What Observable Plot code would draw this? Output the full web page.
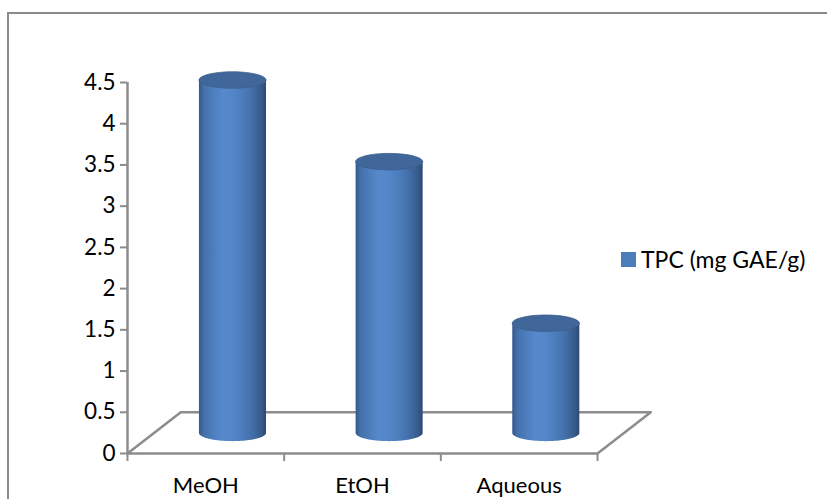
<!DOCTYPE html>
<html>
<head>
<meta charset="utf-8">
<script src="https://cdn.jsdelivr.net/npm/d3@7"></script>
<script src="https://cdn.jsdelivr.net/npm/@observablehq/plot@0.6"></script>
<style>
  html, body { margin: 0; padding: 0; background: #fff; overflow: hidden; }
  #wrap { position: relative; width: 827px; height: 499px; overflow: hidden; font-family: Lato, "Open Sans", sans-serif; }
  #frame { position: absolute; left: 7px; top: 12px; width: 900px; height: 600px; border: 2px solid #8a8a8a; box-sizing: border-box; }
  #legend { position: absolute; left: 621px; top: 245px; display: flex; align-items: center; font-size: 23px; color: #000; white-space: nowrap; }
  #legend .sw { width: 15px; height: 15px; margin-right: 5px; }
</style>
</head>
<body>
<div id="wrap">
  <div id="frame"></div>
  <div id="chart"></div>
  <div id="legend"></div>
</div>
<script>
// ---- data ----
const categories = ["MeOH", "EtOH", "Aqueous"];
const tpcValues = [4.28, 3.29, 1.33];
const seriesName = "TPC (mg GAE/g)";
const yTicks = [0, 0.5, 1, 1.5, 2, 2.5, 3, 3.5, 4, 4.5];
const yTickLabels = ["0", "0.5", "1", "1.5", "2", "2.5", "3", "3.5", "4", "4.5"];

// ---- layout / style constants ----
const seriesColor = "#4a7ebb";
const depthX = 0.34;   // floor depth offset (x units)
const depthY = 0.5;    // floor depth offset (y units)
const halfW = 0.214;   // cylinder radius in x units
const capR = 0.1;      // cap ellipse semi-axis in y units
const nArc = 48;

const n = categories.length;
const rows = categories.map((c, i) => ({ c, i, v: tpcValues[i] }));

function ellipsePts(cx, cy, from, to, group) {
  const pts = [];
  for (let k = 0; k <= nArc; k++) {
    const t = from + (to - from) * k / nArc;
    pts.push({ x: cx + halfW * Math.cos(t), y: cy + capR * Math.sin(t), g: group });
  }
  return pts;
}

const bodyPts = [];
const capPts = [];
rows.forEach(r => {
  const cx = r.i + 0.5 + depthX / 2;
  const base = depthY / 2;
  const top = base + r.v;
  bodyPts.push({ x: cx - halfW, y: top, g: r.c });
  ellipsePts(cx, base, Math.PI, 2 * Math.PI, r.c).forEach(p => bodyPts.push(p));
  bodyPts.push({ x: cx + halfW, y: top, g: r.c });
  ellipsePts(cx, top, 0, 2 * Math.PI, r.c).forEach(p => capPts.push(p));
});

const floor = [
  { x: 0, y: 0 }, { x: depthX, y: depthY }, { x: n + depthX, y: depthY }, { x: n, y: 0 }, { x: 0, y: 0 }
];

const axisGray = "#8c8c8c";

const chart = Plot.plot({
  width: 827,
  height: 499,
  marginLeft: 127,
  marginRight: 230,
  marginTop: 82,
  marginBottom: 46,
  style: { fontFamily: "Lato, 'Open Sans', sans-serif", background: "transparent", overflow: "visible" },
  x: { type: "linear", domain: [0, n], axis: null },
  y: { domain: [0, 4.5], axis: null },
  marks: [
    Plot.line(floor, { x: "x", y: "y", stroke: axisGray, strokeWidth: 2.5 }),
    Plot.ruleX([0], { y1: 0, y2: 4.5, stroke: axisGray, strokeWidth: 2.5 }),
    Plot.axisY({ ticks: yTicks, tickFormat: d => yTickLabels[yTicks.indexOf(d)], tickSize: 7, tickPadding: 5,
      stroke: axisGray, strokeWidth: 2, fill: "#000", fontSize: 22.5, label: null }),
    Plot.axisX({ ticks: d3.range(n + 1), tickSize: 8, tickFormat: () => "", stroke: axisGray, strokeWidth: 2, label: null }),
    Plot.axisX({ ticks: categories.map((c, i) => i + 0.5), tickSize: 0, tickPadding: 24,
      tickFormat: d => categories[Math.floor(d)], fill: "#000", fontSize: 22, label: null }),
    Plot.line(bodyPts, { x: "x", y: "y", z: "g", fill: "url(#cylGrad)", stroke: "none" }),
    Plot.line(capPts, { x: "x", y: "y", z: "g", fill: "#41679a", stroke: "#3b5f8e", strokeWidth: 0.8 })
  ]
});

const ns = "http://www.w3.org/2000/svg";
const defs = document.createElementNS(ns, "defs");
defs.innerHTML = `
  <linearGradient id="cylGrad" x1="0" y1="0" x2="1" y2="0">
    <stop offset="0%" stop-color="#35598a"/>
    <stop offset="8%" stop-color="#4572ad"/>
    <stop offset="35%" stop-color="#5689cc"/>
    <stop offset="50%" stop-color="#5487c9"/>
    <stop offset="75%" stop-color="#4674b0"/>
    <stop offset="92%" stop-color="#385d8e"/>
    <stop offset="100%" stop-color="#2c4a72"/>
  </linearGradient>`;
chart.insertBefore(defs, chart.firstChild);
document.getElementById("chart").appendChild(chart);

const legend = document.getElementById("legend");
legend.innerHTML = `<div class="sw" style="background:${seriesColor}"></div><span>${seriesName}</span>`;
</script>
</body>
</html>
